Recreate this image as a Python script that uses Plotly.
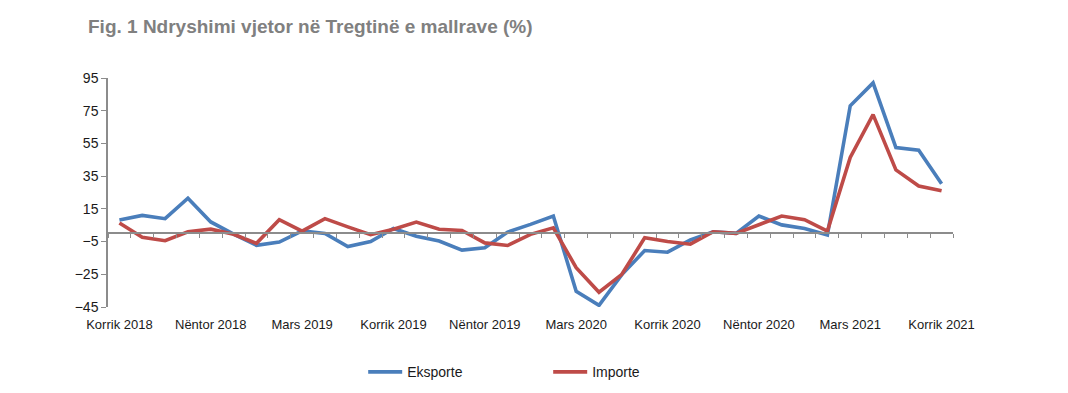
import plotly.graph_objects as go

months_sq = ["Janar", "Shkurt", "Mars", "Prill", "Maj", "Qershor",
             "Korrik", "Gusht", "Shtator", "Tetor", "Nëntor", "Dhjetor"]
# Monthly categories July 2018 .. July 2021
categories = []
for i in range(37):
    m = (6 + i) % 12
    y = 2018 + (6 + i) // 12
    categories.append(f"{months_sq[m]} {y}")

eksporte = [8.2, 11.0, 9.0, 21.5, 7.0, -0.5, -7.3, -5.3, 1.5, 0.0,
            -8.0, -5.0, 3.0, -1.7, -4.7, -10.2, -8.8, 0.8, 5.5, 10.6,
            -35.4, -44.0, -25.2, -10.5, -11.5, -4.0, 1.0, 0.0, 10.6, 5.2,
            3.0, -1.0, 78.0, 92.0, 52.5, 50.9, 30.4]
importe = [6.3, -2.3, -4.5, 1.0, 2.6, -0.5, -6.1, 8.4, 1.4, 9.0,
           4.0, -0.8, 2.6, 6.9, 2.5, 1.8, -5.8, -7.4, -0.6, 3.4,
           -21.0, -36.0, -25.0, -2.7, -5.0, -6.6, 1.0, 0.0, 5.3, 10.6,
           8.4, 1.4, 46.4, 72.6, 38.8, 29.0, 26.0]

tick_labels = categories[::4]
y_min, y_max = -45, 95

BLUE = "#4A7EBB"
RED = "#BE4B48"
AXIS = "#8C8C8C"
FONT = "Liberation Sans, Arial, sans-serif"

fig = go.Figure()
fig.add_trace(go.Scatter(x=categories, y=eksporte, name="Eksporte", mode="lines",
                         line=dict(color=BLUE, width=3.6)))
fig.add_trace(go.Scatter(x=categories, y=importe, name="Importe", mode="lines",
                         line=dict(color=RED, width=3.6)))
# invisible trace to carry the zero-line category axis
fig.add_trace(go.Scatter(x=categories, y=eksporte, xaxis="x2", mode="lines",
                         line=dict(width=0), opacity=0, showlegend=False,
                         hoverinfo="skip"))

zero_pos = (0 - y_min) / (y_max - y_min)

fig.update_layout(
    width=1060, height=385,
    margin=dict(l=100, r=115, t=70, b=86, autoexpand=False),
    paper_bgcolor="white", plot_bgcolor="white",
    font=dict(family=FONT, size=13, color="#1a1a1a"),
    title=dict(text="<b>Fig. 1 Ndryshimi vjetor në Tregtinë e mallrave (%)</b>",
               x=80 / 1060, xref="container", xanchor="left",
               y=1 - 18 / 385, yref="container", yanchor="middle",
               automargin=False,
               font=dict(family="Liberation Sans Narrow, Arial Narrow, Liberation Sans, sans-serif",
                         size=19, color="#808080")),
    xaxis=dict(type="category", categoryorder="array", categoryarray=categories,
               tickvals=tick_labels, ticktext=tick_labels, automargin=False,
               showline=False, showgrid=False, zeroline=False, ticks="",
               ticklabelstandoff=8,
               range=[-0.5, 36.5], tickfont=dict(size=13, color="#1a1a1a")),
    xaxis2=dict(type="category", overlaying="x", matches="x", anchor="free",
                position=zero_pos, showline=True, linecolor=AXIS, linewidth=1.5,
                ticks="outside", ticklen=4, tickcolor=AXIS, tickwidth=1.2,
                tickson="boundaries", showticklabels=False, showgrid=False,
                zeroline=False, automargin=False),
    yaxis=dict(range=[y_min, y_max], tick0=-45, dtick=20, showgrid=False,
               zeroline=False, showline=True, linecolor=AXIS, linewidth=1.5,
               ticks="outside", ticklen=5, tickcolor=AXIS, automargin=False,
               tickfont=dict(size=14, color="#1a1a1a")),
    legend=dict(orientation="h", x=0.302, xanchor="left", y=-0.285, yanchor="middle",
                entrywidth=136, entrywidthmode="pixels",
                font=dict(size=14, color="#1a1a1a"), itemwidth=34),
    showlegend=True,
)

fig.write_html("out.html")
